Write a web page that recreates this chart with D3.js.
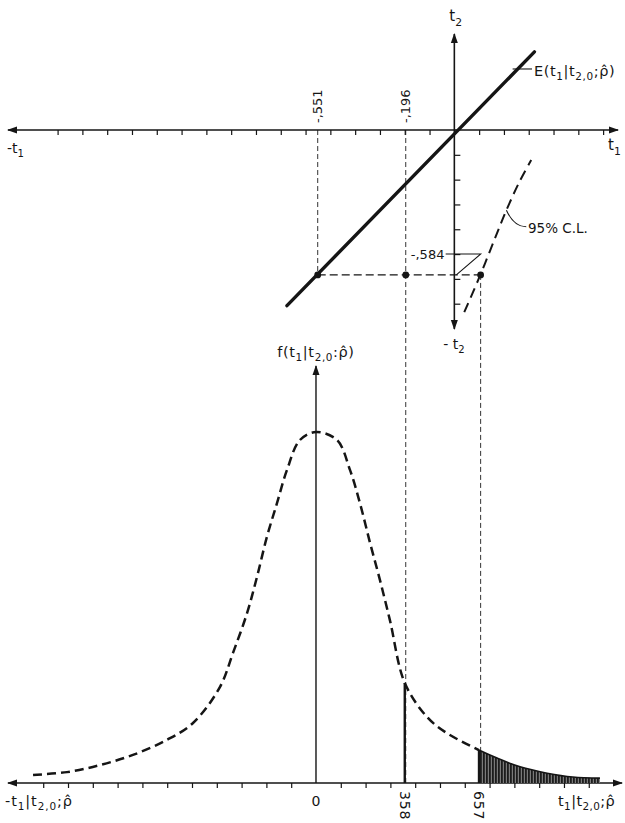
<!DOCTYPE html>
<html>
<head>
<meta charset="utf-8">
<script src="https://cdn.jsdelivr.net/npm/d3@7"></script>
<style>
  html, body { margin: 0; padding: 0; background: #fff; }
  svg { display: block; }
  text { font-family: "DejaVu Sans", "Liberation Sans", sans-serif; fill: #151515; }
</style>
</head>
<body>
<svg id="chart" width="625" height="823"></svg>
<script>
// ---------------- DATA ----------------
// upper panel: joint (t1, t2) plane
const topT1Ticks = [-1.6,-1.5,-1.4,-1.3,-1.2,-1.1,-1.0,-0.9,-0.8,-0.7,-0.6,-0.5,-0.4,-0.3,-0.2,-0.1,0.1,0.2,0.3,0.4,0.5,0.6];
const topT2Ticks = [-0.1,-0.2,-0.3,-0.4,-0.5,-0.6,-0.7];
const regressionT1 = [-0.675, 0.323];        // E(t1 | t2,0 ; rho)
const regressionT2 = [-0.708, 0.315];
const clT1 = [0.040, 0.101, 0.161, 0.210, 0.262, 0.310];   // 95% C.L. curve
const clT2 = [-0.734, -0.593, -0.444, -0.323, -0.210, -0.121];
const t2Observed = -0.584;
const markedT1 = [-0.551, -0.196, 0.106];    // conditional mean, observed, 95% limit
const markedT1Labels = ["-,551", "-,196"];
const t2Label = "-,584";

// lower panel: conditional density f(t1 | t2,0 ; rho)
const densT1 = [-1.141,-1.004,-0.871,-0.738,-0.601,-0.496,-0.387,-0.335,-0.278,-0.238,-0.198,-0.157,-0.117,-0.065,0,0.085,0.137,0.177,0.218,0.258,0.298,0.358,0.448,0.528,0.657,0.730,0.823,0.932,1.036,1.145];
const densF  = [0.023,0.031,0.051,0.080,0.123,0.171,0.274,0.370,0.484,0.587,0.701,0.798,0.892,0.977,1.000,0.977,0.892,0.798,0.684,0.578,0.464,0.285,0.188,0.142,0.094,0.071,0.046,0.028,0.017,0.014];
const botTicks = [-1.1,-1.0,-0.9,-0.8,-0.7,-0.6,-0.5,-0.4,-0.3,-0.2,-0.1,0.1,0.2,0.3,0.4,0.5,0.6,0.7,0.8,0.9,1.0,1.1];
const botMarks = [0.358, 0.657];
const botMarkLabels = ["358", "657"];
const criticalValue = 0.657;

// ---------------- SCALES ----------------
const svg = d3.select("#chart");
const ink = "#151515";

const xTop = d3.scaleLinear().domain([-1.8, 0.66]).range([8, 618]);
const yTop = d3.scaleLinear().domain([0.387, -0.802]).range([34, 329]);
const xBot = d3.scaleLinear().domain([-1.242, 1.234]).range([8, 622]);
const yBot = d3.scaleLinear().domain([0, 1]).range([783, 432]);

const defs = svg.append("defs");
defs.append("marker").attr("id", "arr")
  .attr("viewBox", "0 0 10 10").attr("refX", 9).attr("refY", 5)
  .attr("markerWidth", 10).attr("markerHeight", 10).attr("markerUnits", "userSpaceOnUse")
  .attr("orient", "auto")
  .append("path").attr("d", "M0,1.5 L10,5 L0,8.5 Z").attr("fill", ink);

const hatch = defs.append("pattern").attr("id", "hatch")
  .attr("patternUnits", "userSpaceOnUse").attr("width", 3).attr("height", 10);
hatch.append("rect").attr("width", 3).attr("height", 10).attr("fill", "#7a7a7a");
hatch.append("rect").attr("x", 0).attr("width", 1.8).attr("height", 10).attr("fill", "#1c1c1c");

function richText(sel, parts, size, spacing) {
  const t = sel.style("font-size", size + "px");
  if (spacing) t.style("letter-spacing", spacing + "px");
  let sub = false;
  parts.forEach(([s, isSub]) => {
    const ts = t.append("tspan").text(s);
    if (isSub && !sub) { ts.attr("dy", size * 0.3).style("font-size", (size * 0.72) + "px"); sub = true; }
    else if (isSub && sub) { ts.style("font-size", (size * 0.72) + "px"); }
    else if (!isSub && sub) { ts.attr("dy", -size * 0.3); sub = false; }
  });
  return t;
}

// ================= UPPER PANEL =================
const up = svg.append("g");
const dashThin = "5,3";
up.append("line")
  .attr("x1", xTop(markedT1[0])).attr("x2", xTop(markedT1[0]))
  .attr("y1", yTop(0)).attr("y2", yTop(t2Observed))
  .attr("stroke", "#333").attr("stroke-width", 1).attr("stroke-dasharray", dashThin);
up.append("line")
  .attr("x1", xTop(markedT1[1])).attr("x2", xTop(markedT1[1]))
  .attr("y1", yTop(0)).attr("y2", yBot(0))
  .attr("stroke", "#333").attr("stroke-width", 1).attr("stroke-dasharray", dashThin);
up.append("line")
  .attr("x1", xTop(markedT1[2])).attr("x2", xTop(markedT1[2]))
  .attr("y1", yTop(t2Observed)).attr("y2", yBot(densF[densT1.indexOf(criticalValue)]))
  .attr("stroke", "#333").attr("stroke-width", 1).attr("stroke-dasharray", dashThin);
up.append("line")
  .attr("x1", xTop(markedT1[0])).attr("x2", xTop(markedT1[2]))
  .attr("y1", yTop(t2Observed)).attr("y2", yTop(t2Observed))
  .attr("stroke", ink).attr("stroke-width", 1.4).attr("stroke-dasharray", "8,4");

up.append("line").attr("x1", xTop(0) + 1).attr("x2", xTop(-1.8))
  .attr("y1", yTop(0)).attr("y2", yTop(0))
  .attr("stroke", ink).attr("stroke-width", 1.7).attr("marker-end", "url(#arr)");
up.append("line").attr("x1", xTop(0)).attr("x2", xTop(0.66))
  .attr("y1", yTop(0)).attr("y2", yTop(0))
  .attr("stroke", ink).attr("stroke-width", 1.7).attr("marker-end", "url(#arr)");
up.append("line").attr("x1", xTop(0)).attr("x2", xTop(0))
  .attr("y1", yTop(0)).attr("y2", yTop(0.387))
  .attr("stroke", ink).attr("stroke-width", 1.6).attr("marker-end", "url(#arr)");
up.append("line").attr("x1", xTop(0)).attr("x2", xTop(0))
  .attr("y1", yTop(0)).attr("y2", yTop(-0.802))
  .attr("stroke", ink).attr("stroke-width", 1.6).attr("marker-end", "url(#arr)");

const axT1 = up.append("g").attr("transform", `translate(0,${yTop(0)})`)
  .call(d3.axisBottom(xTop).tickValues(topT1Ticks).tickSize(5).tickFormat(""));
axT1.select(".domain").remove();
axT1.selectAll("line").attr("stroke", ink).attr("stroke-width", 1.2);
const axT2 = up.append("g").attr("transform", `translate(${xTop(0)},0)`)
  .call(d3.axisRight(yTop).tickValues(topT2Ticks).tickSize(6).tickFormat(""));
axT2.select(".domain").remove();
axT2.selectAll("line").attr("stroke", ink).attr("stroke-width", 1.2);

up.append("line")
  .attr("x1", xTop(regressionT1[0])).attr("y1", yTop(regressionT2[0]))
  .attr("x2", xTop(regressionT1[1])).attr("y2", yTop(regressionT2[1]))
  .attr("stroke", ink).attr("stroke-width", 3.4).attr("stroke-linecap", "round");

up.append("path")
  .datum(clT1.map((d, i) => [d, clT2[i]]))
  .attr("d", d3.line().x(d => xTop(d[0])).y(d => yTop(d[1])).curve(d3.curveCatmullRom))
  .attr("fill", "none").attr("stroke", ink).attr("stroke-width", 2)
  .attr("stroke-dasharray", "10,6");

up.selectAll("circle.pt").data(markedT1).join("circle")
  .attr("cx", d => xTop(d)).attr("cy", yTop(t2Observed)).attr("r", 3.4).attr("fill", ink);

markedT1Labels.forEach((lab, i) => {
  up.append("text")
    .attr("transform", `translate(${xTop(markedT1[i])},${yTop(0) - 7}) rotate(-90)`)
    .attr("dy", "0.36em").attr("text-anchor", "start")
    .style("font-size", "13px").text(lab);
});

up.append("text").attr("x", xTop(-0.04)).attr("y", yTop(-0.5) + 5)
  .attr("text-anchor", "end").style("font-size", "13px").text(t2Label);
up.append("path")
  .attr("d", `M${xTop(-0.035)},${yTop(-0.5)} L${xTop(0.106)},${yTop(-0.5)} L${xTop(0.008)},${yTop(t2Observed)}`)
  .attr("fill", "none").attr("stroke", ink).attr("stroke-width", 1.1);

richText(up.append("text").attr("x", xTop(0) - 5).attr("y", 21), [["t", false], ["2", true]], 15);
richText(up.append("text").attr("x", xTop(0) - 11).attr("y", 349), [["- t", false], ["2", true]], 14);
richText(up.append("text").attr("x", 7).attr("y", 153), [["-t", false], ["1", true]], 14);
richText(up.append("text").attr("x", 608).attr("y", 150), [["t", false], ["1", true]], 15);

up.append("line").attr("x1", xTop(0.235)).attr("x2", 532).attr("y1", yTop(0.246)).attr("y2", yTop(0.246))
  .attr("stroke", ink).attr("stroke-width", 1.1);
richText(up.append("text").attr("x", 534).attr("y", 76),
  [["E(t", false], ["1", true], ["|t", false], ["2,0", true], [";\u03C1\u0302)", false]], 14.5, 0.6);

up.append("path")
  .attr("d", `M${xTop(0.21)},${yTop(-0.323)} Q${xTop(0.24)},${yTop(-0.39)} ${xTop(0.29)},${yTop(-0.39)}`)
  .attr("fill", "none").attr("stroke", ink).attr("stroke-width", 1.1);
up.append("text").attr("x", 528).attr("y", 233).style("font-size", "13.5px").text("95% C.L.");

// ================= LOWER PANEL =================
const lo = svg.append("g");
lo.append("line").attr("x1", xBot(0)).attr("x2", xBot(-1.242))
  .attr("y1", yBot(0)).attr("y2", yBot(0))
  .attr("stroke", ink).attr("stroke-width", 1.7).attr("marker-end", "url(#arr)");
lo.append("line").attr("x1", xBot(0)).attr("x2", xBot(1.234))
  .attr("y1", yBot(0)).attr("y2", yBot(0))
  .attr("stroke", ink).attr("stroke-width", 1.7).attr("marker-end", "url(#arr)");
lo.append("line").attr("x1", xBot(0)).attr("x2", xBot(0))
  .attr("y1", yBot(0)).attr("y2", yBot(1.188))
  .attr("stroke", ink).attr("stroke-width", 1.4).attr("marker-end", "url(#arr)");

const axB = lo.append("g").attr("transform", `translate(0,${yBot(0)})`)
  .call(d3.axisBottom(xBot).tickValues(botTicks).tickSize(5).tickFormat(""));
axB.select(".domain").remove();
axB.selectAll("line").attr("stroke", ink).attr("stroke-width", 1.2);

const pts = densT1.map((d, i) => [d, densF[i]]);
const critIdx = densT1.indexOf(criticalValue);
const smooth = d3.curveCatmullRom.alpha(0.5);

lo.append("path")
  .datum(pts.slice(critIdx))
  .attr("d", d3.area().x(d => xBot(d[0])).y0(yBot(0)).y1(d => yBot(d[1])).curve(smooth))
  .attr("fill", "url(#hatch)").attr("stroke", "none");
lo.append("path")
  .datum(pts.slice(critIdx))
  .attr("d", d3.line().x(d => xBot(d[0])).y(d => yBot(d[1])).curve(smooth))
  .attr("fill", "none").attr("stroke", ink).attr("stroke-width", 1.6);
lo.append("line")
  .attr("x1", xBot(criticalValue)).attr("x2", xBot(criticalValue))
  .attr("y1", yBot(0)).attr("y2", yBot(densF[critIdx]))
  .attr("stroke", ink).attr("stroke-width", 2.2);

lo.append("path")
  .datum(pts.slice(0, critIdx + 1))
  .attr("d", d3.line().x(d => xBot(d[0])).y(d => yBot(d[1])).curve(smooth))
  .attr("fill", "none").attr("stroke", ink).attr("stroke-width", 2.5)
  .attr("stroke-dasharray", "9,5");

const obsIdx = densT1.indexOf(botMarks[0]);
lo.append("line")
  .attr("x1", xBot(botMarks[0])).attr("x2", xBot(botMarks[0]))
  .attr("y1", yBot(0)).attr("y2", yBot(densF[obsIdx]))
  .attr("stroke", ink).attr("stroke-width", 2.4);

lo.append("text").attr("x", xBot(0)).attr("y", 806).attr("text-anchor", "middle")
  .style("font-size", "14px").text("0");
botMarkLabels.forEach((lab, i) => {
  lo.append("text")
    .attr("transform", `translate(${xBot(botMarks[i])},${yBot(0) + 8}) rotate(90)`)
    .attr("dy", "0.36em").attr("text-anchor", "start")
    .style("font-size", "14px").style("letter-spacing", "0.8px").text(lab);
});
richText(lo.append("text").attr("x", 5).attr("y", 806),
  [["-t", false], ["1", true], ["|t", false], ["2,0", true], [";\u03C1\u0302", false]], 14.5, 0.9);
richText(lo.append("text").attr("x", 558).attr("y", 806),
  [["t", false], ["1", true], ["|t", false], ["2,0", true], [";\u03C1\u0302", false]], 14.5, 0.4);
richText(lo.append("text").attr("x", xBot(0)).attr("y", 357).attr("text-anchor", "middle"),
  [["f(t", false], ["1", true], ["|t", false], ["2,0", true], [":\u03C1\u0302)", false]], 14.5, 0.6);
</script>
</body>
</html>
